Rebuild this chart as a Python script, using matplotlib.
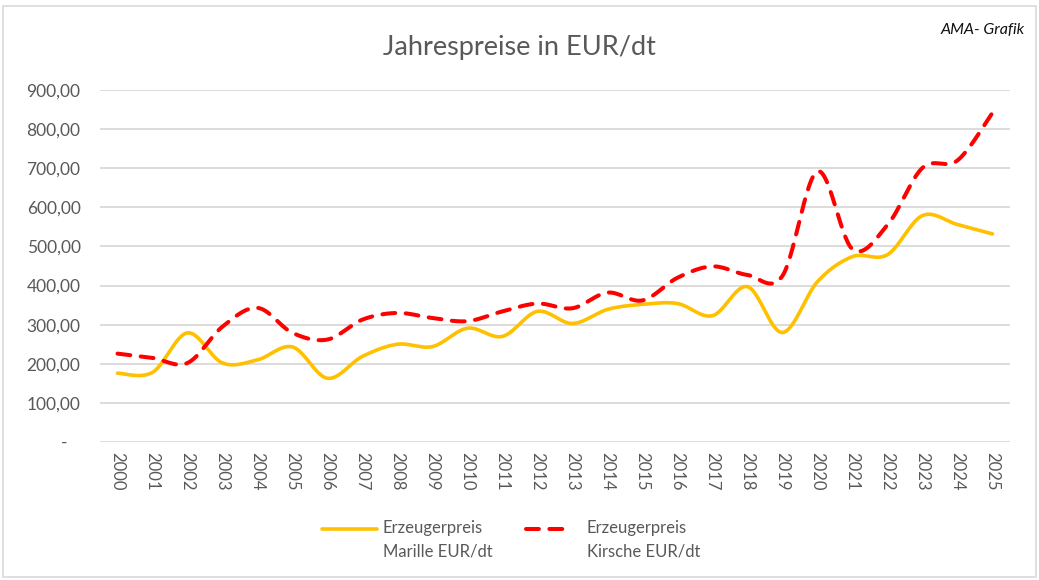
import numpy as np
import matplotlib.pyplot as plt
from matplotlib.patches import Rectangle
from matplotlib.lines import Line2D

# data
years = list(range(2000, 2026))
marille = [176, 178, 279, 202, 210, 243, 163, 219, 250, 244, 291, 270, 334,
           303, 339, 352, 354, 323, 397, 280, 410, 474, 479, 579, 556, 532]
kirsche = [226, 215, 202, 295, 343, 279, 262, 313, 330, 317, 309, 334, 354,
           342, 382, 362, 420, 449, 427, 425, 692, 493, 555, 701, 720, 842]
y_ticks = [0, 100, 200, 300, 400, 500, 600, 700, 800, 900]
labels = ['Erzeugerpreis\nMarille EUR/dt', 'Erzeugerpreis\nKirsche EUR/dt']


def smooth(xs, ys, n=30):
    """Excel-like smoothed line: cubic Bezier through the points."""
    xs = np.asarray(xs, float)
    ys = np.asarray(ys, float)
    px = np.concatenate([[xs[0]], xs, [xs[-1]]])
    py = np.concatenate([[ys[0]], ys, [ys[-1]]])
    out_x, out_y = [], []
    t = np.linspace(0, 1, n)
    for i in range(1, len(xs)):
        x0, y0 = px[i], py[i]
        x3, y3 = px[i + 1], py[i + 1]
        x1 = x0 + (px[i + 1] - px[i - 1]) / 6
        y1 = y0 + (py[i + 1] - py[i - 1]) / 6
        x2 = x3 - (px[i + 2] - px[i]) / 6
        y2 = y3 - (py[i + 2] - py[i]) / 6
        bx = (1 - t)**3 * x0 + 3 * (1 - t)**2 * t * x1 + 3 * (1 - t) * t**2 * x2 + t**3 * x3
        by = (1 - t)**3 * y0 + 3 * (1 - t)**2 * t * y1 + 3 * (1 - t) * t**2 * y2 + t**3 * y3
        out_x.extend(bx)
        out_y.extend(by)
    return np.array(out_x), np.array(out_y)


plt.rcParams['font.family'] = ['Lato', 'DejaVu Sans']
grey = '#595959'
W, H = 1039, 580

fig = plt.figure(figsize=(W / 100, H / 100), dpi=100)
fig.patches.append(Rectangle((0.003, 0.005), 0.994, 0.985, transform=fig.transFigure,
                             fill=False, edgecolor='#d9d9d9', linewidth=1.2))
ax = fig.add_axes([100 / W, 1 - 442 / H, 910 / W, 352 / H])

idx = np.arange(len(years))
mx, my = smooth(idx, marille)
kx, ky = smooth(idx, kirsche)
yellow_style = dict(color='#FFC000', linewidth=2.6, solid_capstyle='round')
red_style = dict(color='#FF0000', linewidth=2.9, dashes=(3.2, 2.6), dash_capstyle='round')
ax.plot(mx, my, **yellow_style)
ax.plot(kx, ky, **red_style)

ax.set_xlim(-0.5, len(years) - 0.5)
ax.set_ylim(0, 900)
ax.set_yticks(y_ticks)
ax.set_yticklabels(['-   '] + [f'{v:,.2f}'.replace('.', ',') for v in y_ticks[1:]])
ax.set_xticks(idx)
ax.set_xticklabels([str(y) for y in years], rotation=-90)
ax.tick_params(axis='both', length=0, colors=grey)
ax.tick_params(axis='y', pad=14, labelsize=12.5)
ax.tick_params(axis='x', pad=7, labelsize=12)
for s in ax.spines.values():
    s.set_visible(False)
ax.grid(axis='y', color='#d9d9d9', linewidth=1.3)
ax.set_axisbelow(True)

fig.text(0.5, 1 - 47 / H, 'Jahrespreise in EUR/dt', ha='center', va='center',
         fontsize=19.5, color=grey)
fig.text(1025 / W, 1 - 30 / H, 'AMA- Grafik', ha='right', va='center',
         fontsize=11.5, fontstyle='italic', color='#111111')

# legend below the plot, handle level with the first text line
for (x0, x1, xt), style, lab in zip([(322, 377, 383), (526, 571, 587)],
                                    [yellow_style, red_style], labels):
    fig.add_artist(Line2D([x0 / W, x1 / W], [1 - 529 / H] * 2,
                          transform=fig.transFigure, **style))
    fig.text(xt / W, 1 - 520 / H, lab, ha='left', va='top', fontsize=12,
             color=grey, linespacing=1.6)

fig.savefig('out.png', dpi=100)
